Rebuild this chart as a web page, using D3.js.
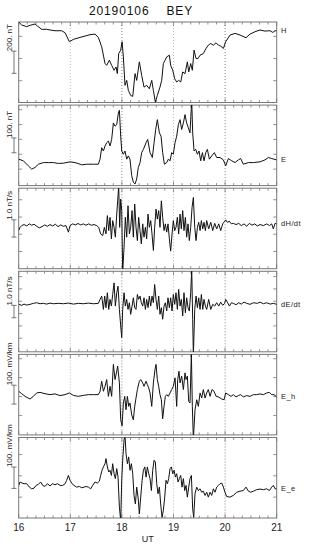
<!DOCTYPE html>
<html>
<head>
<meta charset="utf-8">
<script src="https://cdn.jsdelivr.net/npm/d3@7/dist/d3.min.js"></script>
<style>
  body { margin: 0; background: #fff; }
  svg { display: block; font-family: "Liberation Sans", Arial, sans-serif; }
</style>
</head>
<body>
<svg id="chart" width="310" height="550"></svg>
<script>
// time in minutes after 16:00 UT, value in panel units
const hData = [[0,330],[3.5,303],[9.3,288],[13.2,300],[19,312],[21.7,294],[26.7,264],[32.6,264],[36.4,258],[42.2,251],[50,251],[53.9,233],[58.9,152],[63.6,173],[71.3,191],[77.1,203],[82.9,215],[88.8,221],[92.6,191],[96.5,106],[100.4,-45],[102.3,-61],[105.4,-15],[108.1,-61],[110.9,-106],[113.2,-76],[114.7,-136],[116.3,45],[118.6,76],[120.2,152],[121.7,15],[123.6,-242],[125.6,-197],[127.5,-288],[130.2,-333],[132.6,-342],[135.3,-136],[137.2,-197],[140.3,-30],[143,-152],[145.7,-258],[148.8,-242],[151.9,-273],[154.7,-197],[156.6,-288],[158.9,-394],[161.2,-333],[164.3,-258],[166.3,-197],[168.2,-45],[170.2,-15],[172.1,15],[175.2,30],[176.7,-61],[179.1,-106],[181.4,-182],[183.7,-212],[186,-197],[188.4,-212],[190.7,-121],[193.4,-136],[196.1,-30],[197.7,-121],[200,-45],[201.9,-106],[203.9,76],[206.2,0],[208.5,0],[210.9,30],[214.7,45],[217.8,91],[220.5,121],[223.3,136],[226.4,121],[229.5,142],[232.2,121],[234.9,112],[238,91],[240.7,152],[245.7,212],[251.6,227],[257.4,212],[264.3,188],[269,221],[274.8,242],[280.6,258],[286.4,248],[292.3,251],[295.4,236],[298.1,251],[300,251]];

const eData = [[0,-33],[5.4,-44],[11.2,-78],[15.1,-100],[19,-89],[22.9,-67],[28.7,-56],[34.5,-56],[40.3,-56],[46.1,-62],[51.9,-60],[59.7,-51],[65.5,-56],[73.3,-71],[79.1,-67],[86.8,-67],[92.6,-67],[94.6,-33],[96.5,44],[98.5,22],[100.4,56],[102.3,78],[104.3,89],[106.2,56],[108.1,100],[110.1,211],[112,189],[114,200],[115.9,278],[117.1,296],[118.6,122],[119.8,22],[121.7,0],[123.6,22],[125.6,-33],[127.5,-11],[129.4,-33],[131.4,-144],[133.3,-189],[135.3,-200],[137.2,-167],[139.1,-89],[141.1,-56],[143,11],[145,33],[148.1,78],[150,100],[152.7,11],[155.4,-22],[157.4,78],[159.3,167],[161.2,233],[163.6,144],[165.5,122],[167.4,11],[169.4,-67],[172.1,-56],[174,-33],[176,-44],[177.9,11],[179.8,0],[181.8,78],[183.7,122],[185.7,200],[187.6,233],[189.5,167],[191.5,211],[193.4,267],[195.3,211],[197.3,178],[199.2,144],[200.4,278],[201.2,360],[202.3,144],[203.9,22],[205.8,33],[207.8,0],[209.7,22],[211.6,-44],[213.6,11],[215.5,-44],[217.5,11],[219.4,33],[221.7,-33],[224.4,-11],[227.5,11],[230.2,-22],[234.1,-22],[238,-38],[240.7,-78],[243.8,-29],[247.7,-44],[251.6,-56],[255.4,-38],[258.1,-29],[261.2,-67],[267.1,-56],[272.9,-56],[280.6,-51],[286.4,-38],[290.3,-22],[294.2,-29],[300,-38]];

const dhData = [[0,-0.29],[1.6,-0.1],[3.5,0],[6.2,0.06],[9.3,-0.02],[12.4,0.1],[15.1,0.02],[17.8,0.08],[20.9,-0.04],[24,-0.13],[27.1,-0.06],[30.2,0.04],[33.3,-0.04],[36.4,0.06],[39.5,-0.02],[42.6,0.08],[45.7,-0.06],[48.8,0.04],[51.9,-0.04],[55,0],[57.8,-0.38],[59.7,0],[62.8,0.1],[65.9,0.04],[69,0.12],[72.1,0.04],[75.2,0.1],[78.3,0.02],[81.4,0.1],[84.5,0.02],[87.6,0.06],[90.7,0],[93,-0.1],[95.3,-0.48],[97.7,-0.58],[99.6,-0.1],[101.5,-0.48],[103.1,0.58],[104.7,-0.29],[106.2,0.48],[107.8,-0.77],[109.3,0.29],[110.9,-0.1],[112.4,-0.67],[114,0.67],[115.1,1.44],[116.3,2.3],[117.4,-0.1],[118.6,1.54],[119.8,0.87],[120.9,-2.7],[122.5,-1.25],[124,0.48],[125.6,-0.67],[127.1,1.15],[128.7,-0.48],[130.2,-0.1],[131.8,0.87],[133.3,-0.67],[134.9,1.25],[136.4,-0.1],[138,-0.87],[139.5,0.48],[141.1,-0.29],[142.6,-1.06],[144.2,0.1],[145.7,-0.67],[147.3,-0.1],[148.8,-0.77],[150.4,0.67],[151.9,-0.1],[153.5,0.29],[155,-0.48],[156.6,-1.44],[158.1,-0.1],[159.7,0.96],[161.2,0.38],[162.8,0.87],[164.3,-0.1],[165.9,1.44],[167.4,0.48],[169,-0.29],[170.5,0.1],[172.1,-0.38],[173.6,0.1],[175.2,-0.77],[176.7,-1.48],[178.3,-0.48],[179.8,0.29],[181.4,-0.29],[182.9,-0.1],[184.5,0.48],[186,-0.48],[187.6,0.67],[189.1,-0.19],[190.7,0.87],[192.2,-0.29],[193.8,0.48],[195.3,-0.67],[196.9,0.1],[198.4,-0.87],[200,-0.1],[201.6,1.06],[203.1,1.63],[204.7,-0.1],[206.2,-0.87],[207.8,-0.1],[209.3,0.19],[210.9,-0.29],[212.4,0.29],[214,-0.19],[215.5,0.19],[217.1,-0.29],[218.6,0.29],[220.9,-0.19],[223.3,0.19],[225.6,-0.29],[227.9,0.13],[230.2,-0.19],[232.6,0.1],[234.9,-0.29],[237.2,0.1],[239.5,0.25],[240.7,0.33],[242.6,0.19],[245,0.25],[247.3,0.1],[249.6,0.13],[252.7,0.06],[255.8,0.13],[258.9,0],[262,0.1],[265.1,-0.04],[268.2,0.13],[271.3,0.02],[274.4,0.1],[277.5,-0.02],[280.6,0.06],[284.5,0],[288.4,0.1],[291.5,0],[294.2,0.1],[296.1,-0.19],[298.1,0.13],[300,0.1]];

const deData = [[0,-0.05],[3.5,-0.13],[6.2,-0.03],[9.3,-0.11],[13.2,-0.05],[17.1,0.03],[20.9,0.08],[24.8,0],[28.7,0.03],[32.6,-0.03],[36.4,0.05],[40.3,0],[46.1,0.03],[51.9,0],[57.8,0.05],[63.6,-0.03],[69.4,0.03],[75.2,0],[81,0.05],[86.8,0],[92.6,0.03],[94.6,0.35],[96.5,0.62],[98.5,-0.46],[100,0.62],[101.5,-0.32],[103.1,0.89],[104.7,-0.46],[106.2,0.35],[107.8,-0.19],[109.3,0.75],[110.9,1.69],[112.4,-0.19],[114,0.89],[115.5,1.42],[117.1,-0.46],[118.6,-1.8],[119.8,-2.74],[120.9,-0.46],[122.5,0.89],[124,-0.19],[125.6,0.35],[127.1,-0.46],[128.7,0.08],[130.2,-0.86],[131.8,-0.19],[133.3,0.48],[134.9,-0.32],[136.4,-0.46],[138,0.75],[139.5,0.35],[141.1,0.62],[142.6,0.08],[144.2,-0.19],[145.7,0.48],[147.3,-0.46],[148.8,0.35],[150.4,-0.32],[151.9,0.62],[153.5,-0.19],[155,0.62],[156.6,0.08],[158.1,1.56],[159.7,0.35],[161.2,-0.46],[162.8,0.62],[164.3,-0.86],[165.9,-0.32],[167.4,-1.26],[169,-0.19],[170.5,0.08],[172.1,-0.59],[173.6,0.48],[175.2,-0.32],[176.7,0.48],[178.3,-0.59],[179.8,0.75],[181.4,-0.05],[182.9,0.89],[184.5,-0.46],[186,1.16],[187.6,-0.19],[189.1,0.35],[190.7,-0.99],[192.2,0.89],[193.8,-0.73],[195.3,0.48],[196.9,-0.32],[198.4,-0.59],[200,0.89],[201.2,2.8],[202.3,-1.26],[203.1,-4.2],[204.7,-0.46],[206.2,0.62],[207.8,-0.32],[209.3,0.48],[210.9,-0.46],[212.4,0.75],[214,-0.46],[215.5,0.35],[217.1,-0.19],[218.6,-0.46],[220.9,0.35],[223.3,-0.46],[225.6,-0.05],[227.9,-0.19],[230.2,0.08],[232.6,-0.19],[234.9,0.13],[237.2,-0.13],[239.5,0.03],[240.7,0.35],[242.6,0.13],[245,-0.19],[247.3,0.08],[249.6,0.03],[252.7,-0.08],[255.8,0.08],[258.9,-0.03],[262,0.13],[265.1,0.03],[269,-0.05],[272.9,0.08],[277.5,0.03],[280.6,0.13],[284.5,0],[288.4,0.08],[292.3,-0.03],[296.1,0.03],[300,-0.05]];

const ehData = [[0,18],[3.5,5],[7.4,-9],[13.2,-23],[17.1,-9],[20.9,9],[24.8,12],[30.6,5],[36.4,0],[42.2,4],[48.1,-5],[53.9,0],[58.9,9],[63.6,-4],[69.4,-9],[75.2,-4],[81,0],[86.8,0],[92.6,0],[94.6,18],[96.5,71],[98.5,18],[100.4,44],[102.3,80],[104.3,-9],[106.2,44],[108.1,-9],[110.1,160],[112,80],[114,124],[115.1,151],[117.1,62],[118.6,-133],[120.2,-165],[121.7,-44],[123.3,-9],[124.8,-80],[126.4,-9],[127.9,-62],[129.4,-44],[131.4,-107],[133.3,-133],[134.9,-62],[136.4,-18],[138,27],[140.3,71],[141.9,80],[144.2,62],[145.7,44],[148.1,71],[149.6,53],[151.2,36],[152.7,9],[154.7,-62],[156.6,62],[158.5,133],[159.7,160],[161.2,80],[162.8,44],[164.3,0],[165.9,-27],[167.4,-128],[169,-62],[170.5,-9],[172.1,0],[174,-9],[176,9],[177.9,27],[179.8,44],[181.8,89],[183.7,-62],[184.9,80],[186.4,124],[187.6,62],[189.5,98],[191.5,27],[193.4,115],[194.6,80],[196.1,98],[197.7,-36],[199.2,-44],[200.8,220],[201.9,-62],[203.1,-235],[205,-80],[207,-27],[208.9,-62],[210.9,9],[212.8,-18],[214.7,27],[216.7,-18],[218.6,9],[220.5,27],[222.5,-9],[224.8,27],[227.1,18],[229.5,-9],[232.2,-12],[236.1,-23],[238.8,-27],[240.7,9],[243.8,0],[246.9,-9],[249.6,0],[252.7,-12],[255.4,-5],[258.1,0],[261.2,-12],[265.1,-5],[269,-9],[272.9,0],[276.7,0],[280.6,4],[284.5,0],[288.4,9],[291.5,12],[294.2,0],[296.9,0],[300,-12]];

const eeData = [[0,0],[1.6,16],[3.9,11],[6.2,8],[9.3,8],[12.4,-8],[15.1,-16],[17.8,-13],[20.2,0],[22.9,5],[25.6,16],[27.9,0],[30.6,-5],[33.3,8],[36.4,-2],[39.5,8],[42.2,3],[45,8],[48.1,0],[51.2,0],[53.9,8],[55.8,24],[57.8,47],[59.7,24],[62,8],[64.3,0],[67.4,-8],[70.5,-5],[73.3,-11],[76,-8],[78.3,-5],[81,-8],[83.7,-16],[86,0],[88.8,16],[91.5,11],[93.8,20],[95.3,47],[96.9,71],[98.5,87],[100.4,102],[101.5,126],[103.1,87],[104.7,63],[106.2,71],[107.8,47],[109.3,102],[110.9,55],[112.4,32],[114,79],[115.5,39],[117.1,-102],[118.6,-165],[119.8,24],[120.9,118],[122.5,213],[123.6,235],[124.8,150],[126.4,102],[127.9,134],[129.4,71],[131,102],[132.6,55],[134.1,-47],[135.7,-87],[137.2,-8],[138.8,-55],[140.3,-134],[141.9,-55],[143.5,24],[145,71],[146.6,87],[148.1,39],[149.6,87],[151.2,55],[152.7,32],[154.3,-24],[155.8,71],[157.4,118],[158.9,110],[160.5,8],[162,-39],[163.6,-8],[165.1,-87],[166.7,-150],[168.2,-118],[169.8,-55],[171.3,24],[172.9,8],[174.4,32],[176,79],[177.5,87],[179.1,55],[180.7,71],[182.2,39],[183.7,55],[185.3,16],[186.8,32],[188.4,47],[189.9,-8],[191.5,32],[193,-24],[194.6,0],[196.1,-55],[197.7,-8],[199.2,32],[200.8,47],[202.3,-110],[203.5,-150],[205,-39],[207,-8],[208.9,-24],[210.9,-16],[212.8,-32],[214.7,-27],[216.7,-47],[218.6,-32],[220.5,-55],[222.5,-32],[224.4,-47],[226.4,-16],[228.3,-32],[230.2,-8],[232.2,0],[234.1,8],[236.1,11],[238,-8],[239.9,-32],[241.8,-52],[245.7,-55],[249.6,-47],[253.5,-32],[257.4,-27],[261.2,-24],[264.3,-8],[267.1,-27],[269.8,-32],[272.9,-27],[276.7,-20],[280.6,-17],[284.5,-20],[288.4,-16],[291.5,-24],[294.2,-8],[296.1,0],[298.1,-16],[300,-16]];

const seriesNames = ["H", "E", "dH/dt", "dE/dt", "E_h", "E_e"];
const scaleLabels = ["200. nT", "100. nT", "1.0 nT/s", "1.0 nT/s", "100. mV/km", "100. mV/km"];
const scaleSteps = [200, 100, 1.0, 1.0, 100, 100];
const yDomains = [[-397, 330], [-211, 331], [-2.5, 2.17], [-3.9, 2.63], [-213, 213], [-153, 225]];
const yTicks = [[-200, 0, 200], [-100, 0, 100, 200, 300], [-1.5, -0.5, 0.5, 1.5],
                [-2.8, -1.8, -0.8, 0.2, 1.2, 2.2], [-110, -10, 90, 190], [-55, 45, 145]];
const hourTicks = [16, 17, 18, 19, 20, 21];
const title = "20190106    BEY";
const allData = [hData, eData, dhData, deData, ehData, eeData];

const svg = d3.select("#chart");
const left = 18.7, right = 276.7;
const top0 = 22, step = 83.1, ph = 80.5;

const x = d3.scaleLinear().domain([16, 21]).range([left, right]);
const minorTicks = d3.range(16, 21.001, 1 / 6);

svg.append("text")
  .attr("x", 141).attr("y", 15)
  .attr("text-anchor", "middle")
  .attr("font-size", 12)
  .attr("letter-spacing", 0.9)
  .attr("fill", "#111")
  .style("white-space", "pre")
  .text(title);

allData.forEach((data, i) => {
  const y0 = top0 + i * step;
  const y = d3.scaleLinear().domain(yDomains[i]).range([y0 + ph, y0]);
  const g = svg.append("g").attr("class", "panel");

  g.append("clipPath").attr("id", "clip" + i)
    .append("rect").attr("x", left).attr("y", y0).attr("width", right - left).attr("height", ph);

  // dotted hour lines
  g.selectAll("line.grid").data([17, 18, 19, 20]).join("line")
    .attr("class", "grid")
    .attr("x1", d => x(d)).attr("x2", d => x(d))
    .attr("y1", y0).attr("y2", y0 + ph)
    .attr("stroke", d => (d % 2 === 0 ? "#666" : "#aaa"))
    .attr("stroke-width", 0.8)
    .attr("stroke-dasharray", "1,2");

  // frame
  g.append("rect")
    .attr("x", left).attr("y", y0).attr("width", right - left).attr("height", ph)
    .attr("fill", "none").attr("stroke", "#777").attr("stroke-width", 1);

  // time ticks top and bottom
  g.selectAll("line.tb").data(minorTicks).join("line")
    .attr("class", "tb")
    .attr("x1", d => x(d)).attr("x2", d => x(d))
    .attr("y1", y0 + ph).attr("y2", d => y0 + ph - (Math.abs(d - Math.round(d)) < 1e-6 ? 4 : 2.5))
    .attr("stroke", "#777").attr("stroke-width", 0.8);
  g.selectAll("line.tt").data(minorTicks).join("line")
    .attr("class", "tt")
    .attr("x1", d => x(d)).attr("x2", d => x(d))
    .attr("y1", y0).attr("y2", d => y0 + (Math.abs(d - Math.round(d)) < 1e-6 ? 4 : 2.5))
    .attr("stroke", "#777").attr("stroke-width", 0.8);

  // value ticks left and right
  g.selectAll("line.yl").data(yTicks[i]).join("line")
    .attr("class", "yl")
    .attr("x1", left).attr("x2", left + 3.5)
    .attr("y1", d => y(d)).attr("y2", d => y(d))
    .attr("stroke", "#777").attr("stroke-width", 0.8);
  g.selectAll("line.yr").data(yTicks[i]).join("line")
    .attr("class", "yr")
    .attr("x1", right - 3.5).attr("x2", right)
    .attr("y1", d => y(d)).attr("y2", d => y(d))
    .attr("stroke", "#777").attr("stroke-width", 0.8);

  // data trace
  const line = d3.line()
    .x(d => x(16 + d[0] / 60))
    .y(d => y(d[1]));
  g.append("path")
    .datum(data)
    .attr("clip-path", "url(#clip" + i + ")")
    .attr("d", line)
    .attr("fill", "none")
    .attr("stroke", "#111")
    .attr("stroke-width", 1)
    .attr("stroke-linejoin", "round");

  // scale bar
  const mid = y0 + ph / 2;
  const barLen = Math.abs(y(scaleSteps[i]) - y(0));
  const bTop = mid - barLen / 2, bBot = mid + barLen / 2;
  g.append("line").attr("x1", 14).attr("x2", 14).attr("y1", bTop).attr("y2", bBot)
    .attr("stroke", "#555").attr("stroke-width", 0.8);
  g.selectAll("line.cap").data([bTop, bBot]).join("line")
    .attr("class", "cap")
    .attr("x1", 11.5).attr("x2", 16.5)
    .attr("y1", d => d).attr("y2", d => d)
    .attr("stroke", "#555").attr("stroke-width", 0.8);
  g.append("text")
    .attr("transform", `translate(12,${bTop}) rotate(-90)`)
    .attr("text-anchor", "start")
    .attr("font-size", 8)
    .attr("fill", "#222")
    .text(scaleLabels[i]);

  // series name at right, at the level of the last value
  const last = data[data.length - 1][1];
  g.append("text")
    .attr("x", 281).attr("y", y(last) + 2.5)
    .attr("font-size", 7.5)
    .attr("fill", "#222")
    .attr("letter-spacing", 0.4)
    .text(seriesNames[i]);
});

// time axis labels
const yb = top0 + 5 * step + ph;
svg.selectAll("text.xl").data(hourTicks).join("text")
  .attr("class", "xl")
  .attr("x", d => x(d)).attr("y", yb + 13)
  .attr("text-anchor", "middle")
  .attr("font-size", 10)
  .attr("fill", "#222")
  .text(d => d);
svg.append("text")
  .attr("x", x(18.5)).attr("y", yb + 24)
  .attr("text-anchor", "middle")
  .attr("font-size", 9)
  .attr("fill", "#222")
  .text("UT");
</script>
</body>
</html>
